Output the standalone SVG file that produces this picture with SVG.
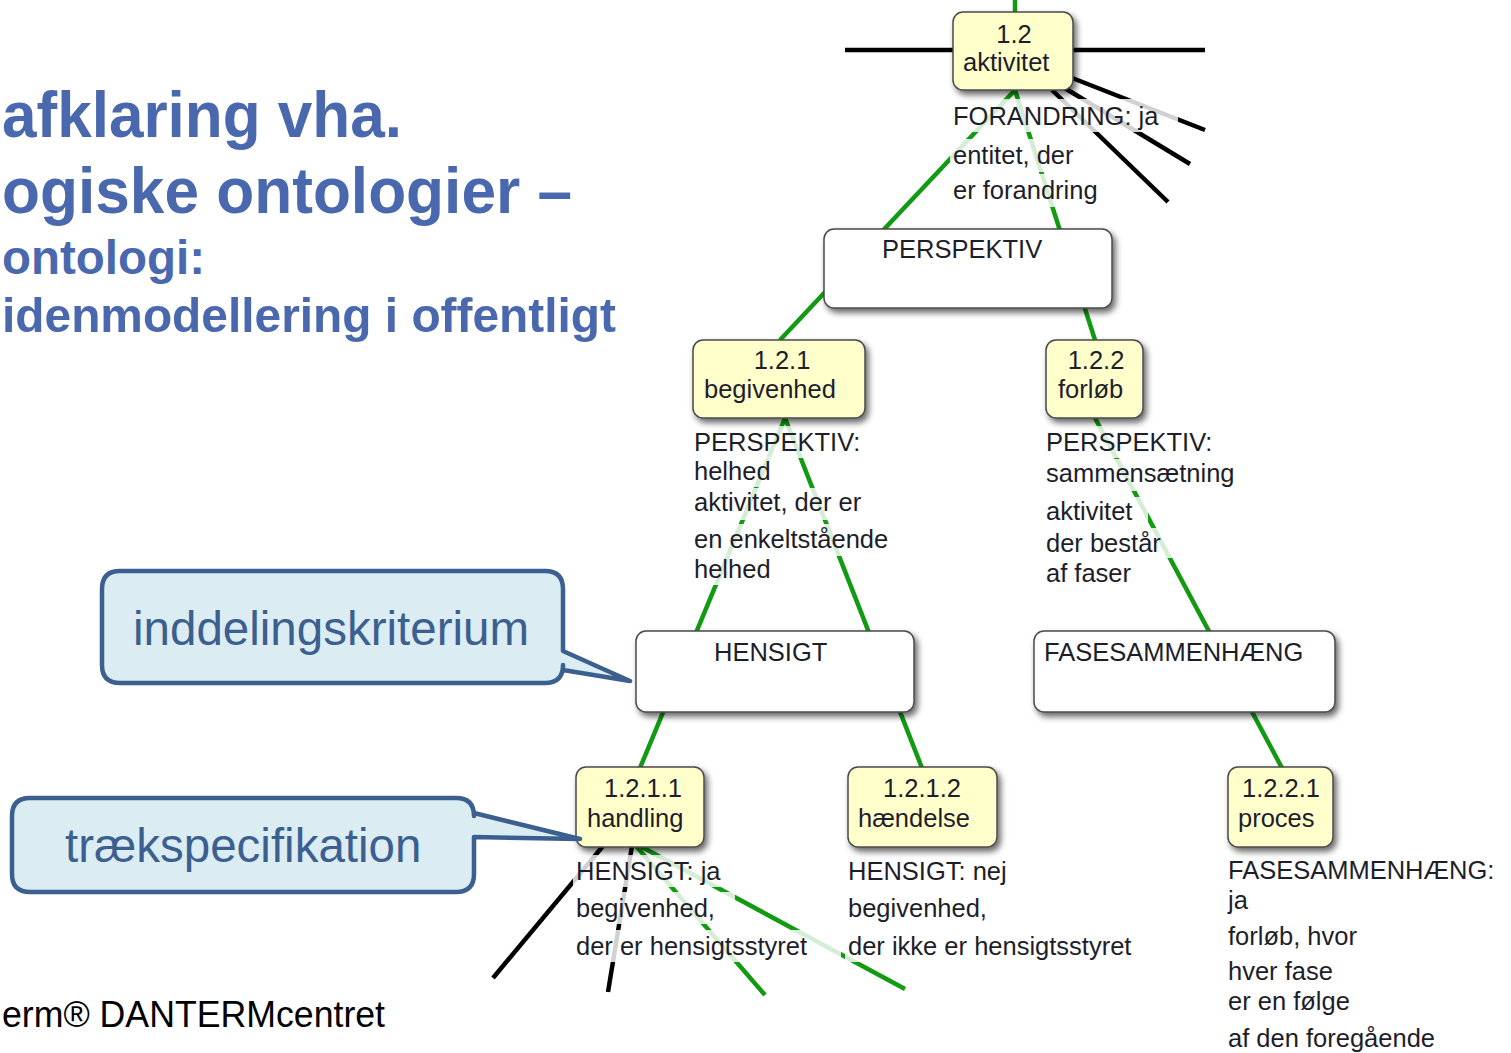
<svg xmlns="http://www.w3.org/2000/svg" width="1511" height="1053" viewBox="0 0 1511 1053">
<defs>
<filter id="sh" x="-20%" y="-20%" width="150%" height="160%">
<feDropShadow dx="3" dy="4" stdDeviation="3" flood-color="#000" flood-opacity="0.6"/>
</filter>
</defs>
<style>
.title{font-family:"Liberation Sans",Arial,sans-serif;font-weight:bold;fill:#4a68ad}
.nd{fill:#ffffcc;stroke:#4a4a4a;stroke-width:1.5}
.cr{fill:#ffffff;stroke:#4a4a4a;stroke-width:1.5}
.t{font-family:"Liberation Sans",Arial,sans-serif;font-size:25.5px;fill:#1e1e2a}
.bg{fill:#ffffff;fill-opacity:0.82}
.g{stroke:#129a12;stroke-width:4.5;fill:none}
.k{stroke:#000;stroke-width:4.5;fill:none}
.call{fill:#dbedf3;stroke:#3b6090;stroke-width:4.5;stroke-linejoin:round}
.ct{font-family:"Liberation Sans",Arial,sans-serif;font-size:47.5px;fill:#3b6090}
</style>
<rect width="1511" height="1053" fill="#ffffff"/>

<g id="title">
<text class="title" x="2" y="137" font-size="64" textLength="400" lengthAdjust="spacingAndGlyphs">afklaring vha.</text>
<text class="title" x="2" y="213" font-size="64" textLength="570" lengthAdjust="spacingAndGlyphs">ogiske ontologier –</text>
<text class="title" x="2" y="274" font-size="48.5" textLength="203" lengthAdjust="spacingAndGlyphs">ontologi:</text>
<text class="title" x="2" y="332" font-size="48.5" textLength="614" lengthAdjust="spacingAndGlyphs">idenmodellering i offentligt</text>
</g>
<g id="footer">
<text x="2" y="1027" textLength="383" lengthAdjust="spacingAndGlyphs" font-family="Liberation Sans, Arial, sans-serif" font-size="36" fill="#000">erm® DANTERMcentret</text>
</g>

<g id="connectors">
<line class="g" x1="1015" y1="0" x2="1015" y2="14"/>
<line class="k" x1="845" y1="50" x2="1205" y2="50"/>
<line class="k" x1="1062" y1="74" x2="1205" y2="130"/>
<line class="k" x1="1058" y1="84" x2="1190" y2="164"/>
<line class="k" x1="1052" y1="90" x2="1168" y2="202"/>
<line class="g" x1="1015" y1="90" x2="780" y2="340"/>
<line class="g" x1="1015" y1="90" x2="1095" y2="340"/>
<line class="g" x1="785" y1="418" x2="640" y2="768"/>
<line class="g" x1="785" y1="418" x2="922" y2="768"/>
<line class="g" x1="1095" y1="418" x2="1282" y2="768"/>
<line class="k" x1="603" y1="846" x2="493" y2="978"/>
<line class="k" x1="632" y1="846" x2="608" y2="992"/>
<line class="g" x1="636" y1="846" x2="765" y2="995"/>
<line class="g" x1="640" y1="846" x2="905" y2="989"/>
</g>

<g id="lbl-1.2">
<rect class="bg" x="950" y="99" width="228" height="33"/>
<rect class="bg" x="950" y="139" width="132" height="33"/>
<rect class="bg" x="950" y="174" width="148" height="33"/>
<text class="t" x="953" y="125">FORANDRING: ja</text>
<text class="t" x="953" y="164">entitet, der</text>
<text class="t" x="953" y="199">er forandring</text>
</g>

<g id="crit-perspektiv">
<rect class="cr" x="824" y="229" width="288" height="79" rx="10" filter="url(#sh)"/>
<text class="t" x="882" y="258">PERSPEKTIV</text>
</g>

<g id="lbl-1.2.1">
<rect class="bg" x="691" y="426" width="175" height="32"/>
<rect class="bg" x="691" y="457" width="80" height="30"/>
<rect class="bg" x="691" y="488" width="178" height="32"/>
<rect class="bg" x="691" y="524" width="226" height="32"/>
<rect class="bg" x="691" y="555" width="80" height="30"/>
<text class="t" x="694" y="451">PERSPEKTIV:</text>
<text class="t" x="694" y="480">helhed</text>
<text class="t" x="694" y="511">aktivitet, der er</text>
<text class="t" x="694" y="548">en enkeltstående</text>
<text class="t" x="694" y="578">helhed</text>
</g>

<g id="lbl-1.2.2">
<rect class="bg" x="1043" y="426" width="178" height="32"/>
<rect class="bg" x="1043" y="459" width="210" height="32"/>
<rect class="bg" x="1043" y="497" width="105" height="30"/>
<rect class="bg" x="1043" y="528" width="140" height="30"/>
<rect class="bg" x="1043" y="559" width="100" height="30"/>
<text class="t" x="1046" y="451">PERSPEKTIV:</text>
<text class="t" x="1046" y="482">sammensætning</text>
<text class="t" x="1046" y="520">aktivitet</text>
<text class="t" x="1046" y="552">der består</text>
<text class="t" x="1046" y="582">af faser</text>
</g>

<g id="crit-hensigt">
<rect class="cr" x="636" y="631" width="278" height="81" rx="10" filter="url(#sh)"/>
<text class="t" x="714" y="661">HENSIGT</text>
</g>
<g id="crit-fasesammenhaeng">
<rect class="cr" x="1034" y="631" width="301" height="81" rx="10" filter="url(#sh)"/>
<text class="t" x="1044" y="661">FASESAMMENHÆNG</text>
</g>

<g id="lbl-1.2.1.1">
<rect class="bg" x="573" y="855" width="168" height="32"/>
<rect class="bg" x="573" y="892" width="162" height="32"/>
<rect class="bg" x="573" y="930" width="268" height="32"/>
<text class="t" x="576" y="880">HENSIGT: ja</text>
<text class="t" x="576" y="917">begivenhed,</text>
<text class="t" x="576" y="955">der er hensigtsstyret</text>
</g>
<g id="lbl-1.2.1.2">
<rect class="bg" x="845" y="855" width="172" height="32"/>
<rect class="bg" x="845" y="892" width="168" height="32"/>
<rect class="bg" x="845" y="930" width="330" height="32"/>
<text class="t" x="848" y="880">HENSIGT: nej</text>
<text class="t" x="848" y="917">begivenhed,</text>
<text class="t" x="848" y="955">der ikke er hensigtsstyret</text>
</g>
<g id="lbl-1.2.2.1">
<rect class="bg" x="1225" y="855" width="282" height="32"/>
<rect class="bg" x="1225" y="886" width="30" height="30"/>
<rect class="bg" x="1225" y="922" width="150" height="32"/>
<rect class="bg" x="1225" y="958" width="128" height="30"/>
<rect class="bg" x="1225" y="988" width="145" height="30"/>
<rect class="bg" x="1225" y="1024" width="240" height="30"/>
<text class="t" x="1228" y="879">FASESAMMENHÆNG:</text>
<text class="t" x="1228" y="909">ja</text>
<text class="t" x="1228" y="945">forløb, hvor</text>
<text class="t" x="1228" y="980">hver fase</text>
<text class="t" x="1228" y="1010">er en følge</text>
<text class="t" x="1228" y="1047">af den foregående</text>
</g>

<g id="node-1.2">
<rect class="nd" x="953" y="12" width="120" height="78" rx="10" filter="url(#sh)"/>
<text class="t" x="1014" y="43" text-anchor="middle">1.2</text>
<text class="t" x="963" y="71">aktivitet</text>
</g>
<g id="node-1.2.1">
<rect class="nd" x="693" y="340" width="172" height="78" rx="10" filter="url(#sh)"/>
<text class="t" x="782" y="369" text-anchor="middle">1.2.1</text>
<text class="t" x="704" y="398">begivenhed</text>
</g>
<g id="node-1.2.2">
<rect class="nd" x="1046" y="340" width="97" height="78" rx="10" filter="url(#sh)"/>
<text class="t" x="1096" y="369" text-anchor="middle">1.2.2</text>
<text class="t" x="1058" y="398">forløb</text>
</g>
<g id="node-1.2.1.1">
<rect class="nd" x="576" y="767" width="128" height="80" rx="10" filter="url(#sh)"/>
<text class="t" x="643" y="797" text-anchor="middle">1.2.1.1</text>
<text class="t" x="587" y="827">handling</text>
</g>
<g id="node-1.2.1.2">
<rect class="nd" x="848" y="767" width="149" height="80" rx="10" filter="url(#sh)"/>
<text class="t" x="922" y="797" text-anchor="middle">1.2.1.2</text>
<text class="t" x="858" y="827">hændelse</text>
</g>
<g id="node-1.2.2.1">
<rect class="nd" x="1228" y="767" width="105" height="80" rx="10" filter="url(#sh)"/>
<text class="t" x="1281" y="797" text-anchor="middle">1.2.2.1</text>
<text class="t" x="1238" y="827">proces</text>
</g>

<g id="callout-inddelingskriterium">
<path class="call" d="M120,571 H545 Q563,571 563,589 V651 L630,681 L563,670 V665 Q563,683 545,683 H120 Q102,683 102,665 V589 Q102,571 120,571 Z"/>
<text class="ct" x="133" y="645">inddelingskriterium</text>
</g>
<g id="callout-traekspecifikation">
<path class="call" d="M30,798 H456 Q474,798 474,816 V813 L580,839 L474,837 V874 Q474,892 456,892 H30 Q12,892 12,874 V816 Q12,798 30,798 Z"/>
<text class="ct" x="65" y="862">trækspecifikation</text>
</g>
</svg>
